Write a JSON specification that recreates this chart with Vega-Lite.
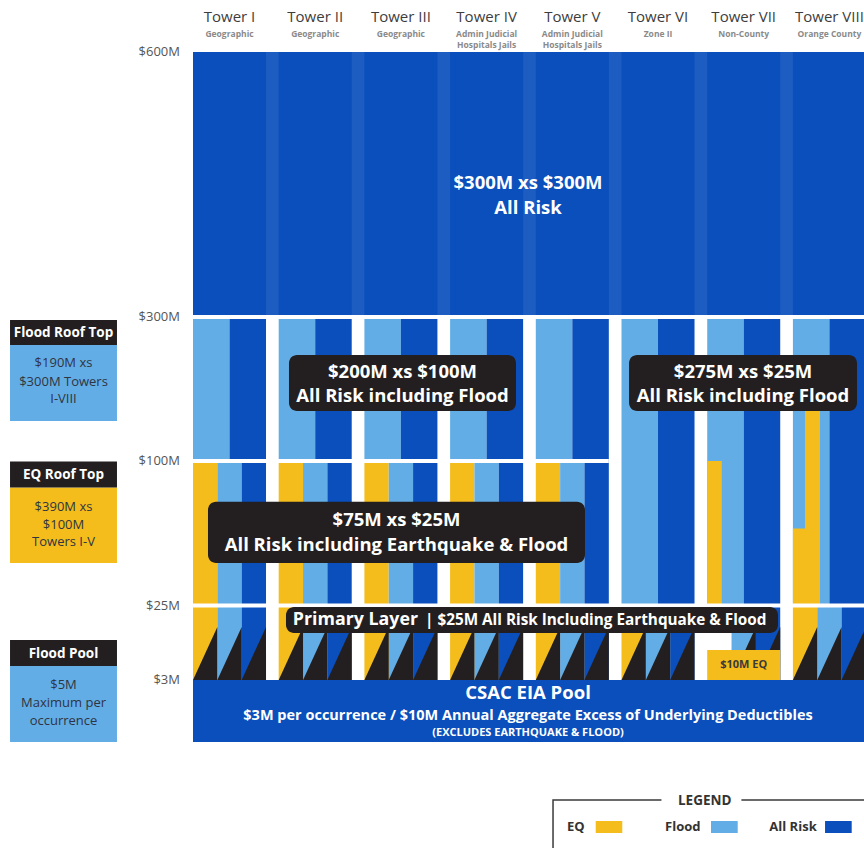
{
  "$schema": "https://vega.github.io/schema/vega-lite/v6.json",
  "width": 864,
  "height": 848,
  "padding": 0,
  "autosize": {"type": "none"},
  "background": "#ffffff",
  "config": {"view": {"stroke": null}, "font": "Open Sans", "text": {"font": "Open Sans"}},
  "datasets": {
    "cov": [
      {"x":0,"x2":7.95,"y":300,"y2":600,"risk":"All Risk"},
      {"x":0,"x2":7.95,"y":0,"y2":3,"risk":"All Risk"},
      {"x":0,"x2":0.426,"y":100,"y2":300,"risk":"Flood"},
      {"x":0.426,"x2":0.852,"y":100,"y2":300,"risk":"All Risk"},
      {"x":0,"x2":0.284,"y":25,"y2":100,"risk":"EQ"},
      {"x":0.284,"x2":0.568,"y":25,"y2":100,"risk":"Flood"},
      {"x":0.568,"x2":0.852,"y":25,"y2":100,"risk":"All Risk"},
      {"x":0,"x2":0.284,"y":3,"y2":25,"risk":"EQ"},
      {"x":0.284,"x2":0.568,"y":3,"y2":25,"risk":"Flood"},
      {"x":0.568,"x2":0.852,"y":3,"y2":25,"risk":"All Risk"},
      {"x":1,"x2":1.426,"y":100,"y2":300,"risk":"Flood"},
      {"x":1.426,"x2":1.852,"y":100,"y2":300,"risk":"All Risk"},
      {"x":1,"x2":1.284,"y":25,"y2":100,"risk":"EQ"},
      {"x":1.284,"x2":1.568,"y":25,"y2":100,"risk":"Flood"},
      {"x":1.568,"x2":1.852,"y":25,"y2":100,"risk":"All Risk"},
      {"x":1,"x2":1.284,"y":3,"y2":25,"risk":"EQ"},
      {"x":1.284,"x2":1.568,"y":3,"y2":25,"risk":"Flood"},
      {"x":1.568,"x2":1.852,"y":3,"y2":25,"risk":"All Risk"},
      {"x":2,"x2":2.426,"y":100,"y2":300,"risk":"Flood"},
      {"x":2.426,"x2":2.852,"y":100,"y2":300,"risk":"All Risk"},
      {"x":2,"x2":2.284,"y":25,"y2":100,"risk":"EQ"},
      {"x":2.284,"x2":2.568,"y":25,"y2":100,"risk":"Flood"},
      {"x":2.568,"x2":2.852,"y":25,"y2":100,"risk":"All Risk"},
      {"x":2,"x2":2.284,"y":3,"y2":25,"risk":"EQ"},
      {"x":2.284,"x2":2.568,"y":3,"y2":25,"risk":"Flood"},
      {"x":2.568,"x2":2.852,"y":3,"y2":25,"risk":"All Risk"},
      {"x":3,"x2":3.426,"y":100,"y2":300,"risk":"Flood"},
      {"x":3.426,"x2":3.852,"y":100,"y2":300,"risk":"All Risk"},
      {"x":3,"x2":3.284,"y":25,"y2":100,"risk":"EQ"},
      {"x":3.284,"x2":3.568,"y":25,"y2":100,"risk":"Flood"},
      {"x":3.568,"x2":3.852,"y":25,"y2":100,"risk":"All Risk"},
      {"x":3,"x2":3.284,"y":3,"y2":25,"risk":"EQ"},
      {"x":3.284,"x2":3.568,"y":3,"y2":25,"risk":"Flood"},
      {"x":3.568,"x2":3.852,"y":3,"y2":25,"risk":"All Risk"},
      {"x":4,"x2":4.426,"y":100,"y2":300,"risk":"Flood"},
      {"x":4.426,"x2":4.852,"y":100,"y2":300,"risk":"All Risk"},
      {"x":4,"x2":4.284,"y":25,"y2":100,"risk":"EQ"},
      {"x":4.284,"x2":4.568,"y":25,"y2":100,"risk":"Flood"},
      {"x":4.568,"x2":4.852,"y":25,"y2":100,"risk":"All Risk"},
      {"x":4,"x2":4.284,"y":3,"y2":25,"risk":"EQ"},
      {"x":4.284,"x2":4.568,"y":3,"y2":25,"risk":"Flood"},
      {"x":4.568,"x2":4.852,"y":3,"y2":25,"risk":"All Risk"},
      {"x":5,"x2":5.426,"y":25,"y2":300,"risk":"Flood"},
      {"x":5.426,"x2":5.852,"y":25,"y2":300,"risk":"All Risk"},
      {"x":5,"x2":5.284,"y":3,"y2":25,"risk":"EQ"},
      {"x":5.284,"x2":5.568,"y":3,"y2":25,"risk":"Flood"},
      {"x":5.568,"x2":5.852,"y":3,"y2":25,"risk":"All Risk"},
      {"x":6,"x2":6.426,"y":25,"y2":300,"risk":"Flood"},
      {"x":6.426,"x2":6.852,"y":25,"y2":300,"risk":"All Risk"},
      {"x":6,"x2":6.17,"y":25,"y2":100,"risk":"EQ"},
      {"x":6.284,"x2":6.568,"y":3,"y2":25,"risk":"Flood"},
      {"x":6.568,"x2":6.852,"y":3,"y2":25,"risk":"All Risk"},
      {"x":7,"x2":7.426,"y":25,"y2":300,"risk":"Flood"},
      {"x":7.426,"x2":7.95,"y":25,"y2":300,"risk":"All Risk"},
      {"x":7.141,"x2":7.316,"y":25,"y2":180,"risk":"EQ"},
      {"x":7,"x2":7.316,"y":25,"y2":65,"risk":"EQ"},
      {"x":7,"x2":7.284,"y":3,"y2":25,"risk":"EQ"},
      {"x":7.284,"x2":7.568,"y":3,"y2":25,"risk":"Flood"},
      {"x":7.568,"x2":7.95,"y":3,"y2":25,"risk":"All Risk"}
    ],
    "stripes": [
      {"x":0.852,"x2":1,"y":300,"y2":600},
      {"x":1.852,"x2":2,"y":300,"y2":600},
      {"x":2.852,"x2":3,"y":300,"y2":600},
      {"x":3.852,"x2":4,"y":300,"y2":600},
      {"x":4.852,"x2":5,"y":300,"y2":600},
      {"x":5.852,"x2":6,"y":300,"y2":600},
      {"x":6.852,"x2":7,"y":300,"y2":600}
    ],
    "tri": [
      {"id":"I-EQ","x":0,"y":3,"y2":3},{"id":"I-EQ","x":0.284,"y":17.75,"y2":3},
      {"id":"I-FL","x":0.284,"y":3,"y2":3},{"id":"I-FL","x":0.568,"y":17.75,"y2":3},
      {"id":"I-AR","x":0.568,"y":3,"y2":3},{"id":"I-AR","x":0.852,"y":17.75,"y2":3},
      {"id":"II-EQ","x":1,"y":3,"y2":3},{"id":"II-EQ","x":1.284,"y":17.75,"y2":3},
      {"id":"II-FL","x":1.284,"y":3,"y2":3},{"id":"II-FL","x":1.568,"y":17.75,"y2":3},
      {"id":"II-AR","x":1.568,"y":3,"y2":3},{"id":"II-AR","x":1.852,"y":17.75,"y2":3},
      {"id":"III-EQ","x":2,"y":3,"y2":3},{"id":"III-EQ","x":2.284,"y":17.75,"y2":3},
      {"id":"III-FL","x":2.284,"y":3,"y2":3},{"id":"III-FL","x":2.568,"y":17.75,"y2":3},
      {"id":"III-AR","x":2.568,"y":3,"y2":3},{"id":"III-AR","x":2.852,"y":17.75,"y2":3},
      {"id":"IV-EQ","x":3,"y":3,"y2":3},{"id":"IV-EQ","x":3.284,"y":17.75,"y2":3},
      {"id":"IV-FL","x":3.284,"y":3,"y2":3},{"id":"IV-FL","x":3.568,"y":17.75,"y2":3},
      {"id":"IV-AR","x":3.568,"y":3,"y2":3},{"id":"IV-AR","x":3.852,"y":17.75,"y2":3},
      {"id":"V-EQ","x":4,"y":3,"y2":3},{"id":"V-EQ","x":4.284,"y":17.75,"y2":3},
      {"id":"V-FL","x":4.284,"y":3,"y2":3},{"id":"V-FL","x":4.568,"y":17.75,"y2":3},
      {"id":"V-AR","x":4.568,"y":3,"y2":3},{"id":"V-AR","x":4.852,"y":17.75,"y2":3},
      {"id":"VI-EQ","x":5,"y":3,"y2":3},{"id":"VI-EQ","x":5.284,"y":17.75,"y2":3},
      {"id":"VI-FL","x":5.284,"y":3,"y2":3},{"id":"VI-FL","x":5.568,"y":17.75,"y2":3},
      {"id":"VI-AR","x":5.568,"y":3,"y2":3},{"id":"VI-AR","x":5.852,"y":17.75,"y2":3},
      {"id":"VII-FL","x":6.284,"y":3,"y2":3},{"id":"VII-FL","x":6.568,"y":17.75,"y2":3},
      {"id":"VII-AR","x":6.568,"y":3,"y2":3},{"id":"VII-AR","x":6.852,"y":17.75,"y2":3},
      {"id":"VIII-EQ","x":7,"y":3,"y2":3},{"id":"VIII-EQ","x":7.284,"y":17.75,"y2":3},
      {"id":"VIII-FL","x":7.284,"y":3,"y2":3},{"id":"VIII-FL","x":7.568,"y":17.75,"y2":3},
      {"id":"VIII-AR","x":7.568,"y":3,"y2":3},{"id":"VIII-AR","x":7.852,"y":17.75,"y2":3}
    ],
    "cov2": [
      {"x":6,"x2":6.852,"y":3,"y2":10,"risk":"EQ"},
      {"x":-2.135,"x2":-0.887,"y":155.6,"y2":261.1,"risk":"Flood"},
      {"x":-2.135,"x2":-0.887,"y":47.1,"y2":86.2,"risk":"EQ"},
      {"x":-2.135,"x2":-0.887,"y":0,"y2":6.27,"risk":"Flood"},
      {"x":4.699,"x2":5.009,"y":-14.91,"y2":-17.17,"risk":"EQ"},
      {"x":6.044,"x2":6.356,"y":-14.91,"y2":-17.17,"risk":"Flood"},
      {"x":7.375,"x2":7.686,"y":-14.91,"y2":-17.17,"risk":"All Risk"}
    ],
    "gaps": [
      {"x":0,"x2":7.95,"y":300},
      {"x":0,"x2":4.852,"y":100},
      {"x":0,"x2":7.95,"y":25}
    ],
    "boxes": [
      {"x":1.120,"x2":3.769,"y":169.4,"y2":247.2},
      {"x":5.088,"x2":7.748,"y":169.4,"y2":247.2},
      {"x":0.175,"x2":4.574,"y":47.1,"y2":78.9},
      {"x":1.085,"x2":6.826,"y":15.73,"y2":24.49}
    ],
    "heads": [
      {"x":-2.135,"x2":-0.887,"y":261.1,"y2":295.8},
      {"x":-2.135,"x2":-0.887,"y":86.2,"y2":99.7},
      {"x":-2.135,"x2":-0.887,"y":6.27,"y2":13.37}
    ],
    "towers": [
      {"x":0.426,"y":633.7,"t":"Tower I"},
      {"x":1.426,"y":633.7,"t":"Tower II"},
      {"x":2.426,"y":633.7,"t":"Tower III"},
      {"x":3.426,"y":633.7,"t":"Tower IV"},
      {"x":4.426,"y":633.7,"t":"Tower V"},
      {"x":5.426,"y":633.7,"t":"Tower VI"},
      {"x":6.426,"y":633.7,"t":"Tower VII"},
      {"x":7.426,"y":633.7,"t":"Tower VIII"}
    ],
    "subs": [
      {"x":0.426,"y":617.3,"t":"Geographic"},
      {"x":1.426,"y":617.3,"t":"Geographic"},
      {"x":2.426,"y":617.3,"t":"Geographic"},
      {"x":3.426,"y":617.3,"t":"Admin Judicial"},
      {"x":3.426,"y":607.2,"t":"Hospitals Jails"},
      {"x":4.426,"y":617.3,"t":"Admin Judicial"},
      {"x":4.426,"y":607.2,"t":"Hospitals Jails"},
      {"x":5.426,"y":617.3,"t":"Zone II"},
      {"x":6.426,"y":617.3,"t":"Non-County"},
      {"x":7.426,"y":617.3,"t":"Orange County"}
    ],
    "ylabels": [
      {"x":-0.152,"y":600,"t":"$600M"},
      {"x":-0.152,"y":300,"t":"$300M"},
      {"x":-0.152,"y":100,"t":"$100M"},
      {"x":-0.152,"y":25,"t":"$25M"},
      {"x":-0.152,"y":3,"t":"$3M"}
    ],
    "big": [
      {"x":3.909,"y":451.7,"t":"$300M xs $300M"},
      {"x":3.909,"y":423.4,"t":"All Risk"},
      {"x":2.445,"y":223.6,"t":"$200M xs $100M"},
      {"x":2.445,"y":190.3,"t":"All Risk including Flood"},
      {"x":6.418,"y":223.6,"t":"$275M xs $25M"},
      {"x":6.418,"y":190.3,"t":"All Risk including Flood"},
      {"x":2.375,"y":69.5,"t":"$75M xs $25M"},
      {"x":2.375,"y":56.5,"t":"All Risk including  Earthquake & Flood"},
      {"x":3.909,"y":2.371,"t":"CSAC EIA Pool"}
    ],
    "primary": [{"x":2.625,"y":20.11,"t":"Primary Layer"}],
    "primary2": [{"x":2.707,"y":20.11,"t":"|  $25M All Risk Including Earthquake & Flood"}],
    "pool2": [{"x":3.909,"y":1.258,"t":"$3M per occurrence / $10M Annual Aggregate Excess of Underlying Deductibles"}],
    "pool3": [{"x":3.909,"y":0.435,"t":"(EXCLUDES EARTHQUAKE & FLOOD)"}],
    "eq10": [{"x":6.426,"y":6.5,"t":"$10M EQ"}],
    "sidehead": [
      {"x":-1.511,"y":277.8,"t":"Flood Roof Top"},
      {"x":-1.511,"y":92.97,"t":"EQ Roof Top"},
      {"x":-1.511,"y":9.07,"t":"Flood Pool"}
    ],
    "sidebody": [
      {"x":-1.511,"y":236.1,"t":"$190M xs"},
      {"x":-1.511,"y":209.7,"t":"$300M Towers"},
      {"x":-1.511,"y":186.1,"t":"I-VIII"},
      {"x":-1.511,"y":76.3,"t":"$390M xs"},
      {"x":-1.511,"y":66.9,"t":"$100M"},
      {"x":-1.511,"y":58.1,"t":"Towers I-V"},
      {"x":-1.511,"y":2.74,"t":"$5M"},
      {"x":-1.511,"y":1.87,"t":"Maximum per"},
      {"x":-1.511,"y":1.0,"t":"occurrence"}
    ],
    "legbox": [{"x":4.201,"x2":8.1,"y":-10.94,"y2":-21}],
    "legbg": [{"x":5.466,"x2":6.399,"y":-10.0,"y2":-11.9}],
    "legtitle": [{"x":5.971,"y":-11.1,"t":"LEGEND"}],
    "legitems": [
      {"x":4.364,"y":-16.1,"t":"EQ"},
      {"x":5.508,"y":-16.1,"t":"Flood"},
      {"x":6.725,"y":-16.1,"t":"All Risk"}
    ]
  },
  "layer": [
    {
      "data": {"name": "cov"},
      "mark": {"type": "rect"},
      "encoding": {
        "x": {"field": "x", "type": "quantitative", "axis": null, "scale": {"domain": [-2.252, 7.8296], "nice": false, "zero": false}},
        "x2": {"field": "x2"},
        "y": {"field": "y", "type": "quantitative", "axis": null, "scale": {"domain": [-20, 0, 3, 10, 25, 100, 300, 600, 650], "range": [848, 742, 680, 650, 605.5, 461, 317, 52, 0], "nice": false, "zero": false}},
        "y2": {"field": "y2"},
        "color": {"field": "risk", "type": "nominal", "legend": null, "scale": {"domain": ["EQ", "Flood", "All Risk"], "range": ["#f4bd1c", "#63ade6", "#0a4fbb"]}}
      }
    },
    {
      "data": {"name": "stripes"},
      "mark": {"type": "rect", "color": "#ffffff", "opacity": 0.08},
      "encoding": {
        "x": {"field": "x", "type": "quantitative"},
        "x2": {"field": "x2"},
        "y": {"field": "y", "type": "quantitative"},
        "y2": {"field": "y2"}
      }
    },
    {
      "data": {"name": "tri"},
      "mark": {"type": "area", "color": "#231f20", "interpolate": "linear"},
      "encoding": {
        "x": {"field": "x", "type": "quantitative"},
        "y": {"field": "y", "type": "quantitative", "stack": null},
        "y2": {"field": "y2"},
        "detail": {"field": "id", "type": "nominal"}
      }
    },
    {
      "data": {"name": "cov2"},
      "mark": {"type": "rect"},
      "encoding": {
        "x": {"field": "x", "type": "quantitative"},
        "x2": {"field": "x2"},
        "y": {"field": "y", "type": "quantitative"},
        "y2": {"field": "y2"},
        "color": {"field": "risk", "type": "nominal", "legend": null}
      }
    },
    {
      "data": {"name": "gaps"},
      "mark": {"type": "rule", "color": "#ffffff", "strokeWidth": 4},
      "encoding": {
        "x": {"field": "x", "type": "quantitative"},
        "x2": {"field": "x2"},
        "y": {"field": "y", "type": "quantitative"}
      }
    },
    {
      "data": {"name": "boxes"},
      "mark": {"type": "rect", "color": "#231f20", "cornerRadius": 8},
      "encoding": {
        "x": {"field": "x", "type": "quantitative"},
        "x2": {"field": "x2"},
        "y": {"field": "y", "type": "quantitative"},
        "y2": {"field": "y2"}
      }
    },
    {
      "data": {"name": "heads"},
      "mark": {"type": "rect", "color": "#231f20"},
      "encoding": {
        "x": {"field": "x", "type": "quantitative"},
        "x2": {"field": "x2"},
        "y": {"field": "y", "type": "quantitative"},
        "y2": {"field": "y2"}
      }
    },
    {
      "data": {"name": "legbox"},
      "mark": {"type": "rect", "fill": null, "fillOpacity": 0, "stroke": "#3a3a3a", "strokeWidth": 1.5},
      "encoding": {
        "x": {"field": "x", "type": "quantitative"},
        "x2": {"field": "x2"},
        "y": {"field": "y", "type": "quantitative"},
        "y2": {"field": "y2"}
      }
    },
    {
      "data": {"name": "legbg"},
      "mark": {"type": "rect", "color": "#ffffff"},
      "encoding": {
        "x": {"field": "x", "type": "quantitative"},
        "x2": {"field": "x2"},
        "y": {"field": "y", "type": "quantitative"},
        "y2": {"field": "y2"}
      }
    },
    {
      "data": {"name": "towers"},
      "mark": {"type": "text", "fontSize": 15, "color": "#3d3d3d", "align": "center", "baseline": "middle"},
      "encoding": {"x": {"field": "x", "type": "quantitative"}, "y": {"field": "y", "type": "quantitative"}, "text": {"field": "t"}}
    },
    {
      "data": {"name": "subs"},
      "mark": {"type": "text", "fontSize": 8.5, "fontWeight": "bold", "color": "#8a8a8a", "align": "center", "baseline": "middle"},
      "encoding": {"x": {"field": "x", "type": "quantitative"}, "y": {"field": "y", "type": "quantitative"}, "text": {"field": "t"}}
    },
    {
      "data": {"name": "ylabels"},
      "mark": {"type": "text", "fontSize": 13, "color": "#555555", "align": "right", "baseline": "middle"},
      "encoding": {"x": {"field": "x", "type": "quantitative"}, "y": {"field": "y", "type": "quantitative"}, "text": {"field": "t"}}
    },
    {
      "data": {"name": "big"},
      "mark": {"type": "text", "fontSize": 18.5, "fontWeight": "bold", "color": "#ffffff", "align": "center", "baseline": "middle"},
      "encoding": {"x": {"field": "x", "type": "quantitative"}, "y": {"field": "y", "type": "quantitative"}, "text": {"field": "t"}}
    },
    {
      "data": {"name": "primary"},
      "mark": {"type": "text", "fontSize": 17.8, "fontWeight": "bold", "color": "#ffffff", "align": "right", "baseline": "middle"},
      "encoding": {"x": {"field": "x", "type": "quantitative"}, "y": {"field": "y", "type": "quantitative"}, "text": {"field": "t"}}
    },
    {
      "data": {"name": "primary2"},
      "mark": {"type": "text", "fontSize": 15.3, "fontWeight": "bold", "color": "#ffffff", "align": "left", "baseline": "middle"},
      "encoding": {"x": {"field": "x", "type": "quantitative"}, "y": {"field": "y", "type": "quantitative"}, "text": {"field": "t"}}
    },
    {
      "data": {"name": "pool2"},
      "mark": {"type": "text", "fontSize": 14.5, "fontWeight": "bold", "color": "#ffffff", "align": "center", "baseline": "middle"},
      "encoding": {"x": {"field": "x", "type": "quantitative"}, "y": {"field": "y", "type": "quantitative"}, "text": {"field": "t"}}
    },
    {
      "data": {"name": "pool3"},
      "mark": {"type": "text", "fontSize": 11, "fontWeight": "bold", "color": "#ffffff", "align": "center", "baseline": "middle"},
      "encoding": {"x": {"field": "x", "type": "quantitative"}, "y": {"field": "y", "type": "quantitative"}, "text": {"field": "t"}}
    },
    {
      "data": {"name": "eq10"},
      "mark": {"type": "text", "fontSize": 11, "fontWeight": "bold", "color": "#3a3a3a", "align": "center", "baseline": "middle"},
      "encoding": {"x": {"field": "x", "type": "quantitative"}, "y": {"field": "y", "type": "quantitative"}, "text": {"field": "t"}}
    },
    {
      "data": {"name": "sidehead"},
      "mark": {"type": "text", "fontSize": 13.5, "fontWeight": "bold", "color": "#ffffff", "align": "center", "baseline": "middle"},
      "encoding": {"x": {"field": "x", "type": "quantitative"}, "y": {"field": "y", "type": "quantitative"}, "text": {"field": "t"}}
    },
    {
      "data": {"name": "sidebody"},
      "mark": {"type": "text", "fontSize": 13, "color": "#2f3442", "align": "center", "baseline": "middle"},
      "encoding": {"x": {"field": "x", "type": "quantitative"}, "y": {"field": "y", "type": "quantitative"}, "text": {"field": "t"}}
    },
    {
      "data": {"name": "legtitle"},
      "mark": {"type": "text", "fontSize": 13.5, "fontWeight": "bold", "color": "#333333", "align": "center", "baseline": "middle"},
      "encoding": {"x": {"field": "x", "type": "quantitative"}, "y": {"field": "y", "type": "quantitative"}, "text": {"field": "t"}}
    },
    {
      "data": {"name": "legitems"},
      "mark": {"type": "text", "fontSize": 13, "fontWeight": "bold", "color": "#333333", "align": "left", "baseline": "middle"},
      "encoding": {"x": {"field": "x", "type": "quantitative"}, "y": {"field": "y", "type": "quantitative"}, "text": {"field": "t"}}
    }
  ]
}
